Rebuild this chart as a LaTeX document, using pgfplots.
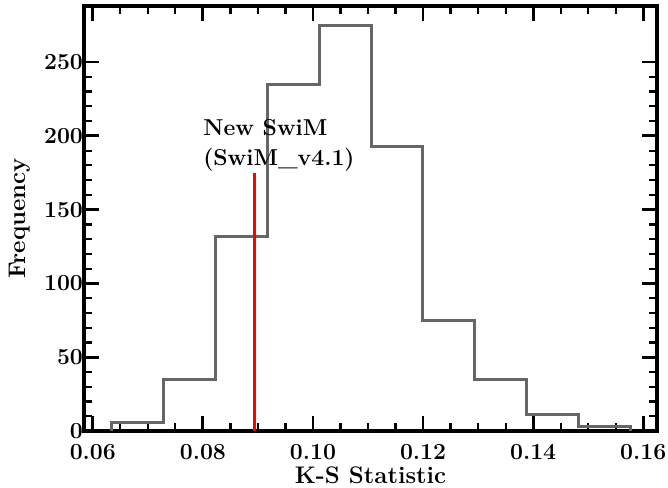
\documentclass[border=0pt]{standalone}
\usepackage{pgfplots}
\pgfplotsset{compat=1.18}
\definecolor{histgray}{RGB}{102,102,102}
\begin{document}
\begin{tikzpicture}
\begin{axis}[
    scale only axis,
    width=286.5pt, height=212.5pt,
    xmin=0.0584, xmax=0.1625,
    ymin=0, ymax=288,
    xtick={0.06,0.08,0.10,0.12,0.14,0.16},
    ytick={0,50,100,150,200,250},
    minor x tick num=3,
    minor y tick num=4,
    scaled x ticks=false,
    tick pos=both,
    tick align=inside,
    axis line style={line width=1.6pt},
    major tick length=7.5pt,
    minor tick length=4pt,
    every major tick/.style={line width=1.4pt, black},
    every minor tick/.style={line width=1.1pt, black},
    /pgf/number format/assume math mode=true,
    tick label style={font=\fontsize{11.5}{13}\selectfont\bfseries},
    xticklabel style={yshift=-3pt, /pgf/number format/fixed, /pgf/number format/fixed zerofill, /pgf/number format/precision=2},
    yticklabel style={xshift=3pt},
    xlabel={K-S Statistic},
    ylabel={Frequency},
    label style={font=\fontsize{12}{14}\selectfont\bfseries},
    xlabel style={yshift=3pt},
]
% histogram outline (bin edges, counts)
\addplot[const plot mark left, color=histgray, line width=1.5pt] coordinates {
    (0.0634,0)(0.0634,6)(0.07283,35)(0.08226,132)(0.09169,235)(0.10112,275)
    (0.11055,193)(0.11998,75)(0.12941,35)(0.13884,11)(0.14827,3)(0.1577,0)
};
% new model value
\addplot[red, line width=1.2pt] coordinates {(0.0894,0)(0.0894,175)};
\node[anchor=base west, align=left, inner sep=0pt,
      font=\fontsize{11.5}{15}\selectfont\bfseries]
    at (axis cs:0.0800,180) {New SwiM\\(SwiM\_v4.1)};
\end{axis}
\pgfresetboundingbox
\path[use as bounding box] ([shift={(-42pt,-28pt)}]current axis.south west)
    rectangle ([shift={(5.5pt,3pt)}]current axis.north east);
\end{tikzpicture}
\end{document}
